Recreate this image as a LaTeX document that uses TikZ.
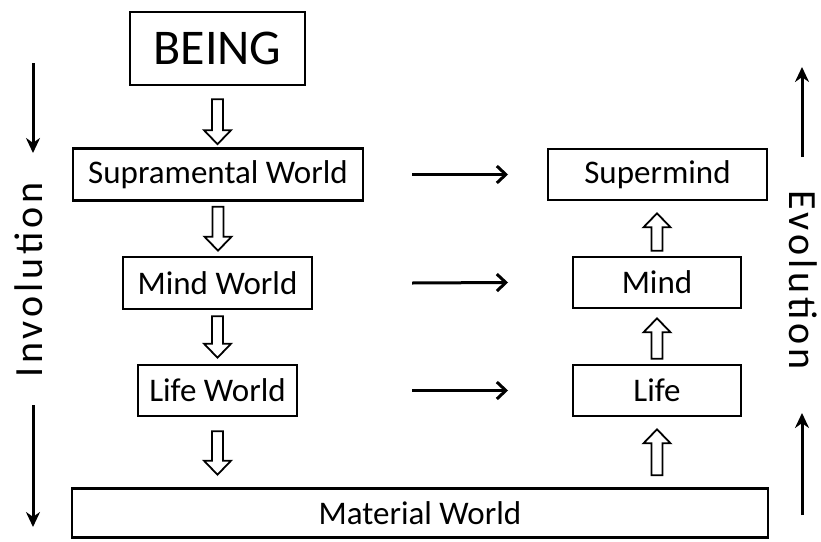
\documentclass[tikz,border=0pt]{standalone}
\usepackage{fontspec}
\setmainfont{Carlito}
\usetikzlibrary{arrows.meta, calc}
\tikzstyle{box}=[draw,rectangle,line width=2.6pt,inner sep=0pt,
  font=\fontsize{33}{40}\selectfont]
\tikzstyle{flow}=[line width=3pt,-{Straight Barb[length=9pt,width=17pt]}]
\tikzstyle{side}=[line width=3pt,-{Stealth[length=15pt,width=14pt]}]
\tikzstyle{hollow}=[line width=1.8pt,line join=miter]
\tikzstyle{sidetext}=[inner sep=0pt,anchor=base,
  font=\fontsize{40}{48}\selectfont\addfontfeature{LetterSpace=10}]

% open block arrow from #1 (tail) to #2 (tip), vertical only
\newcommand{\hollowarrow}[2]{%
  \draw[hollow] let \p1=(#1), \p2=(#2), \n1={sign(\y2-\y1)} in
    ({\x1-5.5pt},\y1) -- ({\x1-5.5pt},{\y2-(\n1)*14pt})
    -- ({\x1-13.5pt},{\y2-(\n1)*14pt}) -- (\x1,\y2)
    -- ({\x1+13.5pt},{\y2-(\n1)*14pt}) -- ({\x1+5.5pt},{\y2-(\n1)*14pt})
    -- ({\x1+5.5pt},\y1) -- cycle;}

\begin{document}
\begin{tikzpicture}[x=1pt,y=-1pt]
  \useasboundingbox (0,0) rectangle (821,541);
  % involution column
  \node[box,minimum width=175pt,minimum height=73pt,
    font=\fontsize{50}{60}\selectfont] (being) at (217.5,48.5) {BEING};
  \node[box,minimum width=290pt,minimum height=52pt] (supra) at (218,174.5) {Supramental World};
  \node[box,minimum width=189pt,minimum height=52pt] (mindw) at (217.5,283) {Mind World};
  \node[box,minimum width=159pt,minimum height=51pt] (lifew) at (217.5,390.5) {Life World};
  \node[box,minimum width=696pt,minimum height=49pt] (material) at (420,513) {Material World};
  % evolution column
  \node[box,minimum width=219pt,minimum height=51pt] (supermind) at (657.5,174.5) {Supermind};
  \node[box,minimum width=168pt,minimum height=51pt] (mind) at (657,282.5) {Mind};
  \node[box,minimum width=168pt,minimum height=51pt] (life) at (657,390.5) {Life};

  \hollowarrow{$(being.south)+(0,13)$}{$(supra.north)+(0,-3)$}
  \hollowarrow{$(supra.south)+(0,5)$}{$(mindw.north)+(0,-5)$}
  \hollowarrow{$(mindw.south)+(0,6)$}{$(lifew.north)+(0,-6)$}
  \hollowarrow{$(lifew.south)+(0,14)$}{$(material.north)+(0,-12.5)$}
  \hollowarrow{$(material.north -| life)+(0,-12)$}{$(life.south)+(0,12)$}
  \hollowarrow{$(life.north)+(0,-5)$}{$(mind.south)+(0,9)$}
  \hollowarrow{$(mind.north)+(0,-5)$}{$(supermind.south)+(0,12)$}

  \coordinate (from) at (412,0);
  \coordinate (to) at (508,0);
  \draw[flow] (supra.east -| from) -- (supermind.west -| to);
  \draw[flow] (mindw.east -| from) -- (mind.west -| to);
  \draw[flow] (lifew.east -| from) -- (life.west -| to);

  % side labels
  \node[sidetext,rotate=90] (involution) at (42,280) {Involution};
  \node[sidetext,rotate=-90] (evolution) at (789,280) {Evolution};
  \coordinate (inv1) at (33,63);
  \coordinate (inv2) at (33,153);
  \coordinate (inv3) at (33,405);
  \coordinate (inv4) at (33,527);
  \coordinate (evo1) at (802,157);
  \coordinate (evo2) at (802,67);
  \coordinate (evo3) at (802,515);
  \coordinate (evo4) at (802,413);
  \draw[side] (inv1) -- (inv2);
  \draw[side] (inv3) -- (inv4);
  \draw[side] (evo1) -- (evo2);
  \draw[side] (evo3) -- (evo4);
\end{tikzpicture}
\end{document}
